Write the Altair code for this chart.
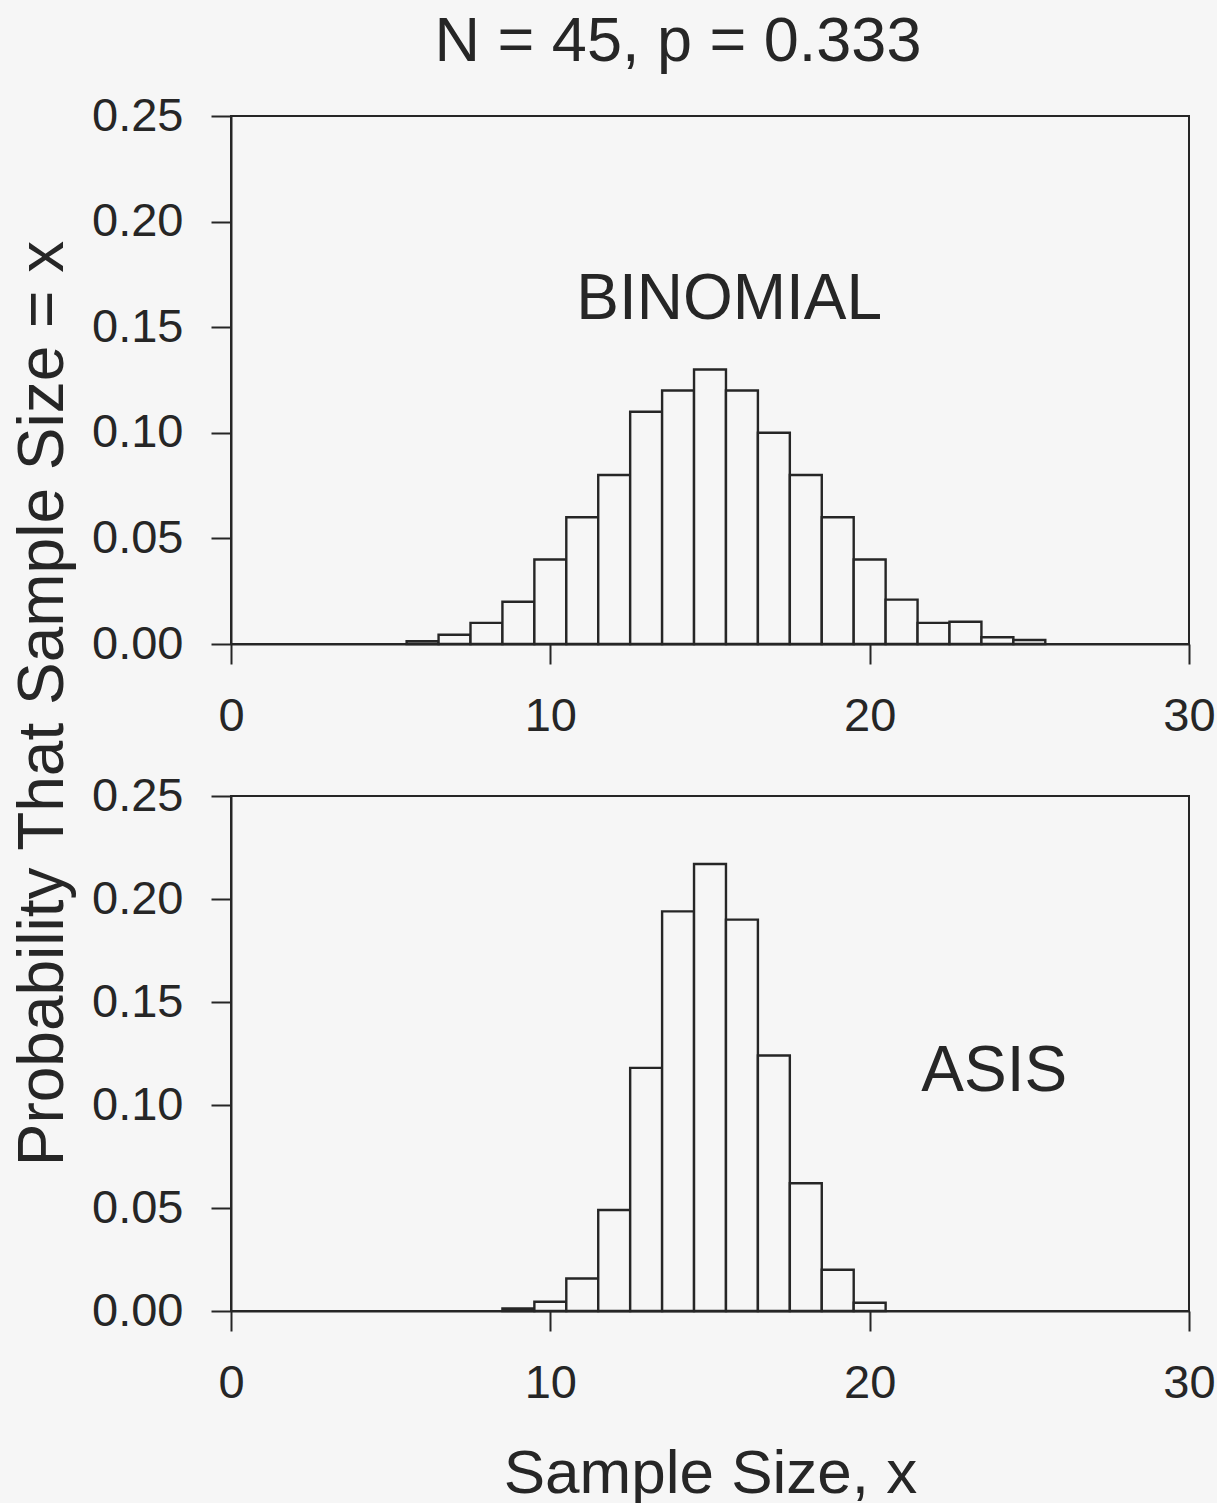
import altair as alt
import pandas as pd

# ---- data ----
binom_x = [6, 7, 8, 9, 10, 11, 12, 13, 14, 15, 16, 17, 18, 19, 20, 21, 22, 23, 24, 25]
binom_p = [0.0013, 0.0044, 0.010, 0.020, 0.040, 0.060, 0.080, 0.110, 0.120, 0.130,
           0.120, 0.100, 0.080, 0.060, 0.040, 0.021, 0.010, 0.0105, 0.0032, 0.0019]

asis_x = [9, 10, 11, 12, 13, 14, 15, 16, 17, 18, 19, 20]
asis_p = [0.0012, 0.0045, 0.0158, 0.049, 0.118, 0.194, 0.217, 0.190, 0.124, 0.062, 0.020, 0.004]

x_ticks = [0, 10, 20, 30]
y_ticks = [0.0, 0.05, 0.10, 0.15, 0.20, 0.25]

title_text = "N = 45, p = 0.333"
y_title = "Probability That Sample Size = x"
x_title = "Sample Size, x"
panel_labels = ["BINOMIAL", "ASIS"]

FONT = "Liberation Sans"
INK = "#262626"
BG = "#f6f6f6"

binom_df = pd.DataFrame({"x": binom_x, "p": binom_p})
binom_df["lo"] = binom_df["x"] - 0.5
binom_df["hi"] = binom_df["x"] + 0.5
asis_df = pd.DataFrame({"x": asis_x, "p": asis_p})
asis_df["lo"] = asis_df["x"] - 0.5
asis_df["hi"] = asis_df["x"] + 0.5

xscale = alt.Scale(domain=[0, 30], nice=False, zero=False)
yscale = alt.Scale(domain=[0, 0.25], nice=False)


def panel(df, label, lx, ly, h, show_ytitle, show_xtitle):
    xaxis = alt.Axis(values=x_ticks, format="d", title=x_title if show_xtitle else None,
                     grid=False, titleY=132, titleBaseline="top", labelFlush=False)
    if show_ytitle:
        yaxis = alt.Axis(values=y_ticks, format=".2f", grid=False, title=y_title,
                         titleX=-169, titleY=587, titleAngle=270, titleFontSize=64,
                         titleBaseline="alphabetic", titleAlign="center")
    else:
        yaxis = alt.Axis(values=y_ticks, format=".2f", grid=False, title=None)
    bars = alt.Chart(df).mark_bar(fill=BG, stroke=INK, strokeWidth=2.4).encode(
        x=alt.X("lo:Q", scale=xscale, axis=xaxis),
        x2="hi:Q",
        y=alt.Y("p:Q", scale=yscale, axis=yaxis),
        y2=alt.datum(0),
    )
    txt = alt.Chart().mark_text(font=FONT, fontSize=64, color=INK, align="center",
                                baseline="alphabetic").encode(
        x=alt.datum(lx), y=alt.datum(ly), text=alt.value(label)
    )
    return alt.layer(bars, txt).properties(width=958, height=h)


top = panel(binom_df, panel_labels[0], 15.6, 0.154, 528, True, False).properties(
    title=alt.TitleParams(title_text, fontSize=63, font=FONT, fontWeight="normal",
                          color=INK, dx=-32, offset=18, anchor="middle")
)
bottom = panel(asis_df, panel_labels[1], 23.9, 0.107, 515, False, True)

chart = alt.vconcat(top, bottom, spacing=152, bounds="flush").properties(
    padding={"left": 10, "top": 10, "right": 0, "bottom": 0},
    background=BG,
).configure_view(
    stroke=INK, strokeWidth=2, fill=BG
).configure_axis(
    domainColor=INK, domainWidth=2, tickColor=INK, tickWidth=2, tickSize=20,
    labelFont=FONT, labelFontSize=47, labelColor=INK, labelPadding=28,
    titleFont=FONT, titleFontSize=62, titleColor=INK, titleFontWeight="normal",
).configure_axisX(labelPadding=29)

chart.save("out.html", embed_options={"renderer": "svg", "actions": False})
